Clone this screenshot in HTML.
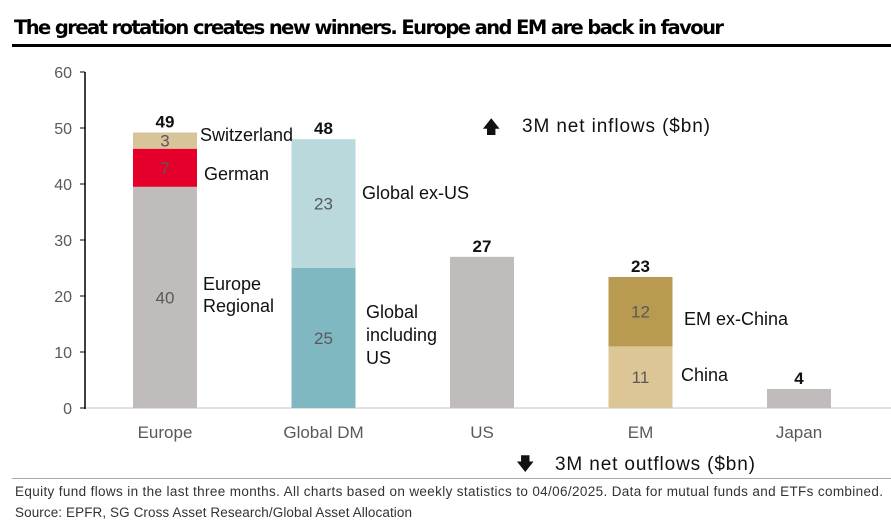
<!DOCTYPE html>
<html><head><meta charset="utf-8"><style>
body{margin:0;width:891px;height:532px;background:#fff;overflow:hidden;font-family:"Liberation Sans",Arial,sans-serif}
svg{display:block}
</style></head><body>
<svg width="891" height="532">
<text x="14" y="34" font-size="19.5" font-weight="bold" fill="#000" font-family="DejaVu Sans, sans-serif" textLength="710">The great rotation creates new winners. Europe and EM are back in favour</text>
<rect x="12" y="44" width="879" height="3" fill="#000"/>
<g id="axes"></g>
<g id="bars"></g>
<text x="482" y="133" font-size="18" fill="#111">🡅</text>
<text x="522" y="132" font-size="19" fill="#111" textLength="188">3M net inflows ($bn)</text>
<text x="516" y="470" font-size="18" fill="#111">🡇</text>
<text x="555" y="470" font-size="19" fill="#111" textLength="200">3M net outflows ($bn)</text>
<rect x="12" y="478" width="879" height="1" fill="#aaa"/>
<text x="15" y="496" font-size="13.5" fill="#333" textLength="868">Equity fund flows in the last three months. All charts based on weekly statistics to 04/06/2025. Data for mutual funds and ETFs combined.</text>
<text x="15" y="517" font-size="13.5" fill="#333" textLength="397">Source: EPFR, SG Cross Asset Research/Global Asset Allocation</text>
</svg>
<script>
const categories=["Europe","Global DM","US","EM","Japan"];
const seg1=[39.5,25,27,11,3.4];
const seg2=[6.8,23,0,12.4,0];
const seg3=[2.9,0,0,0,0];
const seg1Labels=["40","25","","11",""];
const seg2Labels=["7","23","","12",""];
const seg3Labels=["3","","","",""];
const totalLabels=["49","48","27","23","4"];
const yTicks=[0,10,20,30,40,50,60];
const ns="http://www.w3.org/2000/svg";
const y=v=>408-v*5.6;
const cx=i=>165+i*158.5;
const bw=64;
function el(t,a,p,txt){const e=document.createElementNS(ns,t);for(const k in a)e.setAttribute(k,a[k]);if(txt!==undefined)e.textContent=txt;p.appendChild(e);return e;}
const ax=document.getElementById('axes'),bg=document.getElementById('bars');
let e=el('line',{x1:85,y1:408,x2:891,y2:408,stroke:'#d9d9d9','stroke-width':1.5},ax);

e=el('line',{x1:85,y1:y(60),x2:85,y2:409,stroke:'#000','stroke-width':1.5},ax);

yTicks.forEach(t=>{
 let l=el('line',{x1:80,y1:y(t),x2:85,y2:y(t),stroke:'#000','stroke-width':1},ax);
 
 let tx=el('text',{x:72,y:y(t)+6,'font-size':16,fill:'#595959','text-anchor':'end'},ax,String(t));
 
});
const c1=['#c0bcbc','#7fb8c0','#c0bcbc','#dcc696','#c0bcbc'];
const c2=['#e4002b','#b9d9dc','#ccc','#b89a50','#ccc'];
const c3=['#d8c49a','#ccc','#ccc','#ccc','#ccc'];
categories.forEach((c,i)=>{
 const x=cx(i)-bw/2;
 const segs=[[seg1,c1,seg1Labels],[seg2,c2,seg2Labels],[seg3,c3,seg3Labels]];
 let base=0;
 segs.forEach(([arr,col,lab],k)=>{
  const v=arr[i];if(v<=0)return;
  let r=el('rect',{x:x,y:y(base+v),width:bw,height:v*5.6,fill:col[i]},bg);
  
  if(lab[i]){let t=el('text',{x:cx(i),y:y(base+v/2)+6,'font-size':17,fill:'#595959','text-anchor':'middle'},bg,lab[i]);
   }
  base+=v;
 });
 let t=el('text',{x:cx(i),y:y(base)-5,'font-size':17,'font-weight':'bold',fill:'#111','text-anchor':'middle'},bg,totalLabels[i]);
 
 let xl=el('text',{x:cx(i),y:438,'font-size':17,fill:'#595959','text-anchor':'middle'},bg,c);
 
});
const ann=[["Switzerland",200,141],["German",204,180],["Europe",203,290],["Regional",203,312],["Global ex-US",362,199],["Global",366,318],["including",366,341],["US",366,364],["EM ex-China",684,325],["China",681,381]];
ann.forEach(a=>{let t=el('text',{x:a[1],y:a[2],'font-size':18,fill:'#111'},bg,a[0]);
 });
</script>
</body></html>
